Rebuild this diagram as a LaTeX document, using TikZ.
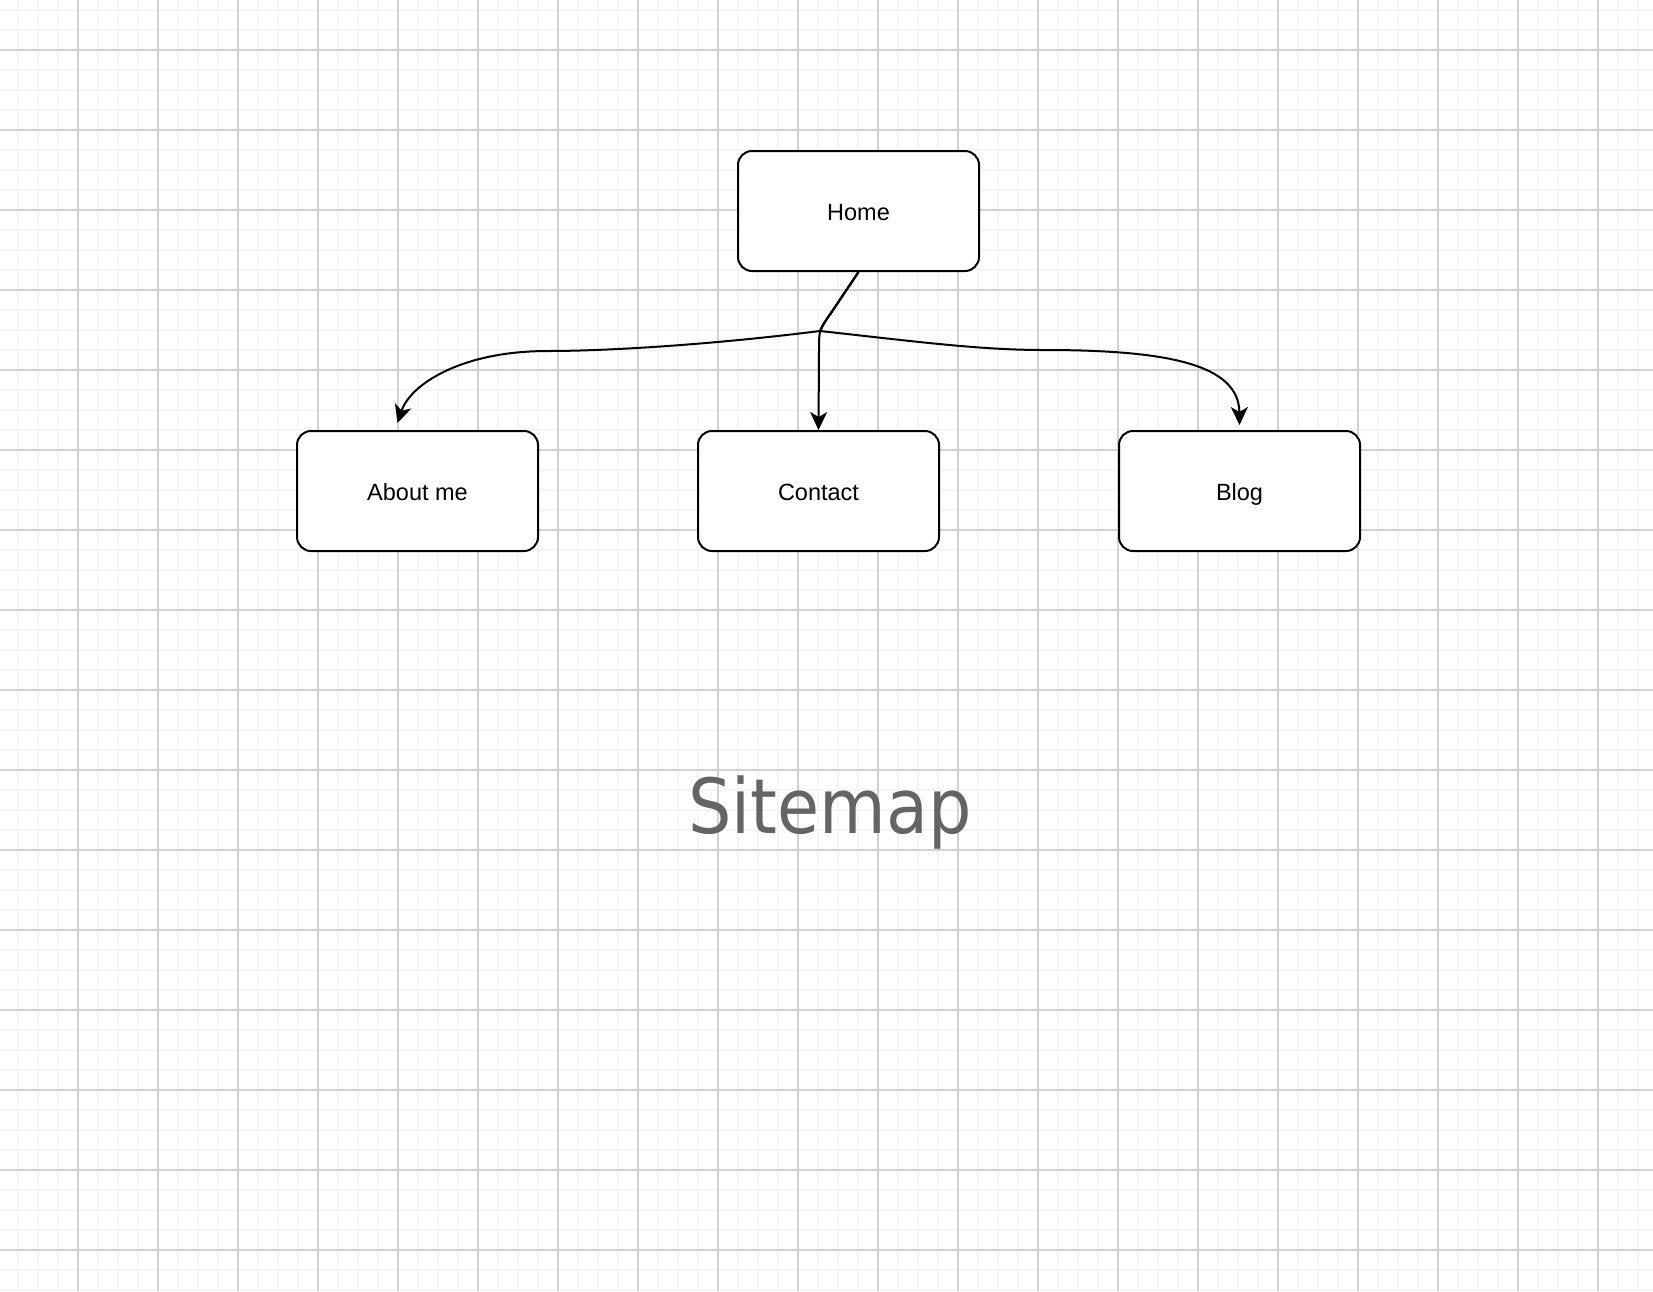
\documentclass[tikz,border=0pt]{standalone}
\usepackage{fontspec}
\setmainfont{Liberation Sans}
\newfontfamily\titlefont{DejaVu Sans Condensed}
\usepackage{xcolor}
\usepackage{tikz}
\usetikzlibrary{arrows.meta,positioning}
\definecolor{gridminor}{RGB}{245,245,245}
\definecolor{gridmajor}{RGB}{210,210,210}
\definecolor{titlegray}{RGB}{100,100,100}
\tikzset{
  pagebox/.style={
    rectangle,
    rounded corners=14pt,
    draw=black,
    line width=2pt,
    fill=white,
    align=center,
    minimum width=241pt,
    minimum height=120pt,
    inner sep=0pt,
    text height=20pt,
    text depth=2pt,
    font=\fontsize{23.5}{28}\selectfont
  },
  linkarrow/.style={
    -{Stealth[length=18pt,width=17pt,inset=5pt]},
    line width=2pt,
    draw=black
  },
  minorline/.style={draw=gridminor, line width=1.7pt},
  majorline/.style={draw=gridmajor, line width=1.2pt}
}
\begin{document}
\begin{tikzpicture}[x=1pt, y=-1pt, node distance=158pt and 158pt]
\useasboundingbox (0,0) rectangle (1653,1291);
% background grid
\fill[white] (0,0) rectangle (1653,1291);
\foreach \gx in {18,38,...,1653} \draw[minorline] (\gx,0) -- (\gx,1291);
\foreach \gy in {10,30,...,1291} \draw[minorline] (0,\gy) -- (1653,\gy);
\foreach \gx in {78,158,...,1653} \draw[majorline] (\gx,0) -- (\gx,1291);
\foreach \gy in {50,130,...,1291} \draw[majorline] (0,\gy) -- (1653,\gy);

\node[pagebox] (home) at (858.5,211) {Home};
\node[pagebox, below=158pt of home, xshift=-40pt] (contact) {Contact};
\node[pagebox, left=of contact] (about) {About me};
\node[pagebox, right=178pt of contact] (blog) {Blog};

\coordinate (bend) at (831,313);
\coordinate (split) at (820,331);

\draw[linkarrow] (home.south) -- (bend) .. controls (819,330) .. (819,350) -- (contact.north);
\draw[linkarrow] (home.south) -- (bend) .. controls (824,323) .. (split)
  .. controls (700,346) and (600,351) .. (548,351)
  .. controls (460,351) and (410,385) .. ([xshift=-20pt,yshift=7pt]about.north);
\draw[linkarrow] (home.south) -- (bend) .. controls (824,323) .. (split)
  .. controls (920,342) and (980,350) .. (1044,350)
  .. controls (1170,350) and (1239,365) .. ([yshift=5pt]blog.north);

\node[anchor=base, text=titlegray, font=\titlefont\fontsize{76}{90}\selectfont] (title) at (830,833) {Sitemap};
\end{tikzpicture}
\end{document}
